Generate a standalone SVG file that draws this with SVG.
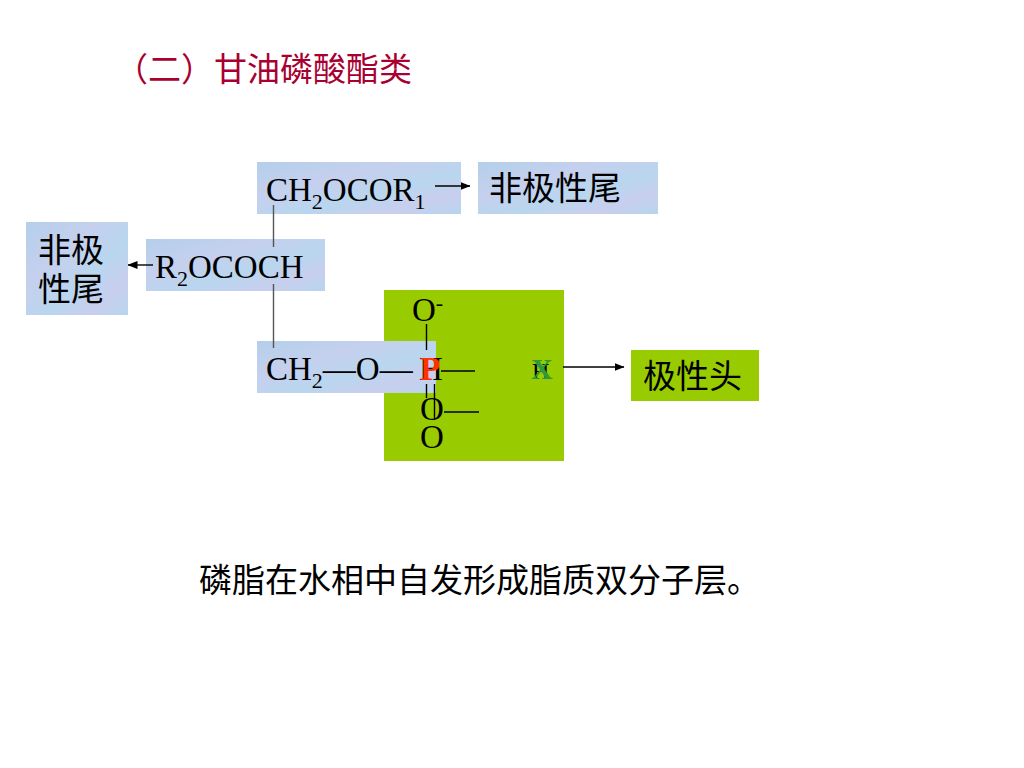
<svg xmlns="http://www.w3.org/2000/svg" width="1024" height="768" viewBox="0 0 1024 768">
<defs>
<linearGradient id="tex" x1="0" y1="0" x2="1" y2="1">
<stop offset="0" stop-color="#b4cfea"/><stop offset="0.35" stop-color="#c5d0ee"/><stop offset="0.6" stop-color="#b9d6ee"/><stop offset="0.8" stop-color="#c8cfee"/><stop offset="1" stop-color="#b7d5ec"/>
</linearGradient>
<marker id="ah" viewBox="0 0 10 8" refX="9.5" refY="4" markerWidth="10" markerHeight="8" markerUnits="userSpaceOnUse" orient="auto"><path d="M0 0L10 4L0 8z" fill="#000"/></marker>
</defs>
<style>
.t{font-family:"Liberation Serif","Times New Roman",serif;font-size:33px;fill:#000}
.s{font-size:22px}
.c{font-family:"Noto Sans CJK SC","Noto Serif CJK SC",sans-serif;font-size:33px;fill:#000}
.box{fill:url(#tex)}
.l{stroke:#000;stroke-width:1.4;fill:none}
.g{stroke:#555;stroke-width:1.4;fill:none}
</style>
<rect width="1024" height="768" fill="#fff"/>
<text id="title" x="115" y="81" font-family="Noto Sans CJK SC,sans-serif" font-size="33" fill="#a80030">（二）甘油磷酸酯类</text>
<g id="head-bg"><rect x="384" y="290" width="180" height="171" fill="#99cc00"/></g>
<g id="n1"><rect class="box" x="257" y="162" width="204" height="52"/>
<text class="t" x="266" y="201">CH<tspan class="s" dy="8">2</tspan><tspan dy="-8">OCOR</tspan><tspan class="s" dy="8">1</tspan></text></g>
<g id="n2"><rect class="box" x="478" y="162" width="180" height="52"/>
<text class="c" x="489" y="200">非极性尾</text></g>
<g id="n3"><rect class="box" x="146" y="239" width="179" height="52"/>
<text class="t" x="155" y="278">R<tspan class="s" dy="8">2</tspan><tspan dy="-8">OCOCH</tspan></text></g>
<g id="n4"><rect class="box" x="26" y="222" width="102" height="93"/>
<text class="c" x="38" y="262">非极</text><text class="c" x="38" y="301">性尾</text></g>
<g id="n5"><rect class="box" x="257" y="341" width="179" height="52"/>
<text class="t" x="266" y="380">CH<tspan class="s" dy="8">2</tspan><tspan dy="-8">—O—</tspan></text>
<text class="t" x="419" y="380">H</text></g>
<g id="n6"><text class="t" x="412" y="321">O<tspan class="s" dy="-11">-</tspan></text>
<text class="t" x="420" y="380" font-weight="bold" style="fill:#ff3300">P</text>
<text class="t" x="420" y="420">O</text>
<text class="t" x="420" y="448">O</text></g>
<g id="n7"><text class="t" x="532" y="379" style="font-size:24px">H</text>
<text class="t" x="531" y="379" font-weight="bold" style="font-size:30px;fill:#2e9a3a">X</text></g>
<g id="n8"><rect x="631" y="350" width="128" height="51" fill="#99cc00"/>
<text class="c" x="643" y="388">极性头</text></g>
<g id="connectors">
<path class="g" d="M273.500 205V247M273.500 284V348"/>
<path class="l" d="M435 186H470" marker-end="url(#ah)"/>
<path class="l" d="M153 265H128" marker-end="url(#ah)"/>
<path class="l" d="M563 367H624" marker-end="url(#ah)"/>
<path class="l" d="M426.500 324V350M426.500 384V398M434.500 384V420M441 371H475M444 412H479"/>
</g>
<text id="caption" x="199" y="592" font-family="Noto Sans CJK SC,sans-serif" font-size="33" fill="#000">磷脂在水相中自发形成脂质双分子层。</text>
</svg>
